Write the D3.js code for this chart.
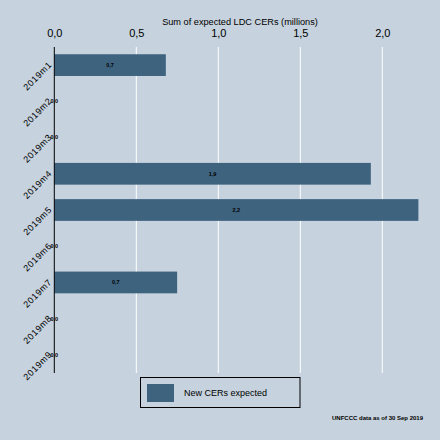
<!DOCTYPE html>
<html>
<head>
<meta charset="utf-8">
<script src="https://cdn.jsdelivr.net/npm/d3@7"></script>
<style>
	body { margin: 0; background: #c6d2dd; }
	text { font-family: "Liberation Sans", Arial, sans-serif; fill: #000; }
</style>
</head>
<body>
<div id="chart"></div>
<script>
"use strict";

/* global d3 */

// Chart data
var months = ["2019m1", "2019m2", "2019m3", "2019m4", "2019m5", "2019m6", "2019m7", "2019m8", "2019m9"];
var cers = [0.68, 0, 0, 1.93, 2.22, 0, 0.749, 0, 0];
var xTicks = [0, 0.5, 1.0, 1.5, 2.0];
var legendLabel = "New CERs expected";
var axisTitle = "Sum of expected LDC CERs (millions)";
var note = "UNFCCC data as of 30 Sep 2019";

var W = 440, H = 440;
var plot = { x: 54.3, y: 47, w: 380, h: 326 };
var barColor = "#3e637f";
var fmt = function(v) { return d3.format(".1f")(v).replace(".", ","); };

var svg = d3.select("#chart").append("svg").attr("width", W).attr("height", H);
svg.append("rect").attr("width", W).attr("height", H).attr("fill", "#c6d2dd");

var x = d3.scaleLinear().domain([0, 1]).range([plot.x, plot.x + 164]);
var y = d3.scaleBand().domain(months).range([plot.y, plot.y + plot.h]).
	paddingInner(0.4).paddingOuter(0.2);

// Grid lines
svg.append("g").selectAll("line").data(xTicks.filter(function(d) { return d > 0; })).
	join("line").attr("x1", x).attr("x2", x).
	attr("y1", plot.y).attr("y2", plot.y + plot.h).
	attr("stroke", "#fff").attr("stroke-width", 1);

// Bars
svg.append("g").selectAll("rect").data(cers).join("rect").
	attr("x", x(0)).attr("y", function(d, i) { return y(months[i]); }).
	attr("width", function(d) { return x(d) - x(0); }).
	attr("height", y.bandwidth()).attr("fill", barColor);

// Value labels (centred in the bar, zero values sit on the axis)
svg.append("g").selectAll("text").data(cers).join("text").
	attr("x", function(d) { return (x(0) + x(d)) / 2; }).
	attr("y", function(d, i) { return y(months[i]) + y.bandwidth() / 2; }).
	attr("dy", "0.35em").attr("text-anchor", "middle").
	style("font-size", "5.5px").style("font-weight", "bold").text(fmt);

// Top axis
var xAxis = d3.axisTop(x).tickValues(xTicks).tickFormat(fmt).tickSize(0).tickPadding(10);
var gx = svg.append("g").attr("transform", "translate(0," + plot.y + ")").call(xAxis);
gx.select(".domain").remove();
gx.selectAll("text").style("font-size", "11px").attr("fill", "#000");

svg.append("text").attr("x", 240).attr("y", 25).attr("text-anchor", "middle").
	style("font-size", "9.2px").text(axisTitle);

// Y axis line and rotated category labels
svg.append("line").attr("x1", x(0)).attr("x2", x(0)).
	attr("y1", plot.y).attr("y2", plot.y + plot.h).attr("stroke", "#000").attr("stroke-width", 1);

svg.append("g").selectAll("text").data(months).join("text").
	attr("transform", function(d) {
		return "translate(" + (x(0) - 4) + "," + (y(d) + y.bandwidth() / 2 - 2) + ") rotate(-45)";
	}).
	attr("text-anchor", "end").attr("dy", "0.35em").
	style("font-size", "9px").style("letter-spacing", "0.6px").text(function(d) { return d; });

// Legend
var lg = svg.append("g").attr("transform", "translate(140.5,377.5)");
lg.append("rect").attr("width", 159.5).attr("height", 30).
	attr("fill", "none").attr("stroke", "#000").attr("stroke-width", 1);
lg.append("rect").attr("x", 6.5).attr("y", 6.5).attr("width", 27).attr("height", 18).attr("fill", barColor);
lg.append("text").attr("x", 43.5).attr("y", 15.5).attr("dy", "0.35em").
	style("font-size", "9px").text(legendLabel);

// Note
svg.append("text").attr("x", 423).attr("y", 420).attr("text-anchor", "end").
	style("font-size", "6px").style("font-weight", "bold").text(note);
</script>
</body>
</html>
